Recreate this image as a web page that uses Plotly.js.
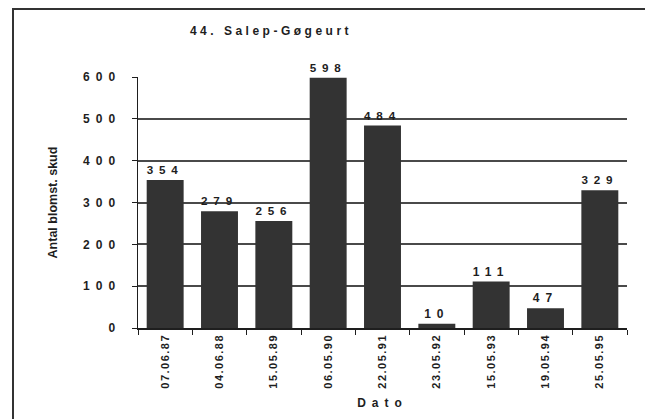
<!DOCTYPE html>
<html>
<head>
<meta charset="utf-8">
<script src="https://cdn.plot.ly/plotly-3.0.1.min.js"></script>
<style>
  html, body { margin: 0; padding: 0; background: #fff; overflow: hidden; width: 645px; height: 419px; }
  #wrap { position: relative; width: 645px; height: 419px; overflow: hidden; }
  #chart { position: absolute; left: 0; top: 0; width: 645px; height: 419px; }
  #frame { position: absolute; left: 12px; top: 8px; width: 640px; height: 420px;
           border-left: 2px solid #333; border-top: 2px solid #333; border-right: 0; border-bottom: 0; pointer-events: none; }
  .ytick text { letter-spacing: 6px; }
  .bartext, .bartext text { letter-spacing: 6px; }
  .gtitle { letter-spacing: 3.5px; }
  .xtitle { letter-spacing: 6px; }
  .xtick text { letter-spacing: 1.5px; }
</style>
</head>
<body>
<div id="wrap"><div id="chart"></div><div id="frame"></div></div>
<script>
const chartTitle = "44. Salep-Gøgeurt";
const xTitle = "Dato";
const yTitle = "Antal blomst. skud";
const dates = ["07.06.87", "04.06.88", "15.05.89", "06.05.90", "22.05.91", "23.05.92", "15.05.93", "19.05.94", "25.05.95"];
const counts = [354, 279, 256, 598, 484, 10, 111, 47, 329];
const yTicks = [0, 100, 200, 300, 400, 500, 600];

const fontFam = "Liberation Sans, Arial, Helvetica, sans-serif";
const ink = "#1e1e1e";

const trace = {
  type: "bar",
  x: dates,
  y: counts,
  text: counts.map(String),
  textposition: "outside",
  cliponaxis: false,
  textfont: { family: fontFam, size: 12, color: ink, weight: 700 },
  marker: { color: "#333333", line: { width: 0 } },
  hoverinfo: "none"
};

const layout = {
  width: 645,
  height: 419,
  margin: { l: 138, r: 18, t: 77, b: 91 },
  paper_bgcolor: "rgba(0,0,0,0)",
  plot_bgcolor: "rgba(0,0,0,0)",
  showlegend: false,
  bargap: 0.32,
  font: { family: fontFam, color: ink },
  title: {
    text: chartTitle,
    font: { family: fontFam, size: 12, color: ink, weight: 700 },
    xref: "paper", x: 0.272, xanchor: "center",
    yref: "container", y: 0.926, yanchor: "middle"
  },
  xaxis: {
    type: "category",
    tickangle: -90,
    ticks: "outside",
    tickson: "boundaries",
    ticklen: 5,
    tickwidth: 1,
    tickcolor: ink,
    showline: true,
    linecolor: ink,
    linewidth: 1.5,
    showgrid: false,
    tickfont: { family: fontFam, size: 11, color: ink, weight: 700 },
    title: { text: xTitle, font: { family: fontFam, size: 12, color: ink, weight: 700 }, standoff: 11 },
    fixedrange: true
  },
  yaxis: {
    range: [0, 600],
    tickmode: "array",
    tickvals: yTicks,
    ticktext: yTicks.map(String),
    ticks: "outside",
    ticklen: 5,
    tickwidth: 1,
    tickcolor: ink,
    showline: true,
    linecolor: ink,
    linewidth: 1.5,
    showgrid: true,
    gridcolor: "#4a4a4a",
    gridwidth: 2,
    zeroline: false,
    ticklabelstandoff: 8,
    tickfont: { family: fontFam, size: 12, color: ink, weight: 700 },
    title: { text: yTitle, font: { family: fontFam, size: 12.5, color: ink, weight: 700 }, standoff: 22 },
    fixedrange: true
  }
};

Plotly.newPlot("chart", [trace], layout, { staticPlot: true, displayModeBar: false });
</script>
</body>
</html>
